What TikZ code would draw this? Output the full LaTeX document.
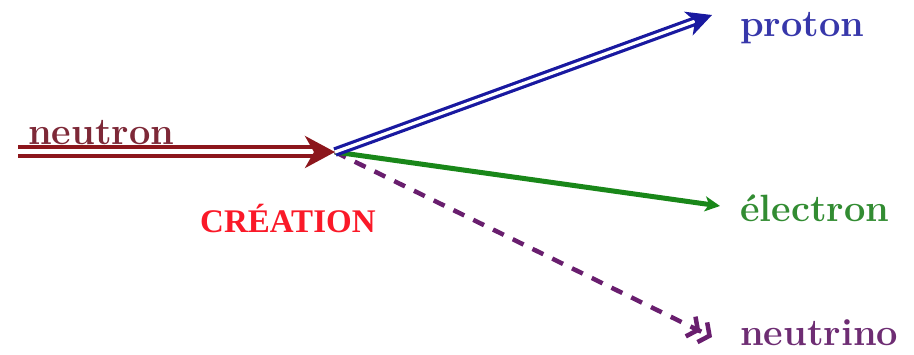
\documentclass[tikz,border=0pt]{standalone}
\usepackage{fontspec}
\newfontfamily\creafont{Liberation Serif}
\usetikzlibrary{arrows.meta}
\definecolor{neutroncol}{RGB}{140,22,28}
\definecolor{neutronlab}{RGB}{125,40,55}
\definecolor{protoncol}{RGB}{25,25,160}
\definecolor{protonlab}{RGB}{55,55,170}
\definecolor{electroncol}{RGB}{25,135,25}
\definecolor{electronlab}{RGB}{50,140,50}
\definecolor{neutrinocol}{RGB}{105,30,110}
\definecolor{neutrinolab}{RGB}{110,45,115}
\definecolor{creacol}{RGB}{250,25,40}
\begin{document}
\begin{tikzpicture}[x=1pt,y=-1pt,
  lab/.style={anchor=base west,inner sep=0pt,font=\fontsize{38}{40}\selectfont\bfseries},
  neutronline/.style={draw=neutroncol,line width=4pt,double=white,double distance=5pt,
    -{Stealth[length=30pt,width=32pt,inset=9pt,fill=neutroncol]}},
  protonline/.style={draw=protoncol,line width=3.2pt,double=white,double distance=3.2pt,
    -{Stealth[length=25pt,width=25pt,inset=7pt,fill=protoncol]}},
  electronline/.style={draw=electroncol,line width=5pt,-{Stealth[length=15pt,width=15pt,inset=4pt]}},
  neutrinoline/.style={draw=neutrinocol,line width=4.5pt,dash pattern=on 12pt off 10pt,
    -{Straight Barb[length=8pt,width=22pt,sep=0pt]Straight Barb[length=8pt,width=22pt]}}]
\useasboundingbox (0,0) rectangle (914,355);
\coordinate (v) at (335,152);
\coordinate (nstart) at (18,152);
\coordinate (pend) at (712,15);
\coordinate (eend) at (720,206);
\coordinate (nuend) at (712,337);
\node[lab,text=neutronlab] (nlab) at (28,145) {neutron};
\node[lab,text=protonlab] (plab) at (740,37) {proton};
\node[lab,text=electronlab] (elab) at (740,222) {électron};
\node[lab,text=neutrinolab] (nulab) at (740,346) {neutrino};
\node[anchor=base west,inner sep=0pt,text=creacol,font=\creafont\bfseries\fontsize{33}{35}\selectfont] (crea) at (200,233) {CRÉATION};
\draw[neutrinoline] (v) -- (nuend);
\draw[electronline] (v) -- (eend);
\draw[protonline] (v) -- (pend);
\draw[neutronline] (nstart) -- (v);
\end{tikzpicture}
\end{document}
